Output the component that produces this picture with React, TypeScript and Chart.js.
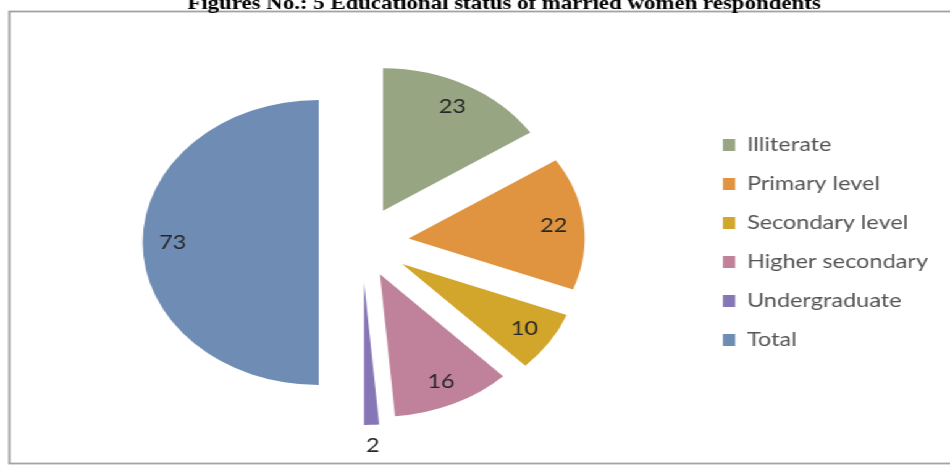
import React, { useEffect, useRef } from "react";
import { Chart, registerables } from "chart.js";

Chart.register(...registerables);

const categories = ["Illiterate", "Primary level", "Secondary level", "Higher secondary", "Undergraduate", "Total"];
const values = [23, 22, 10, 16, 2, 73];
const colors = ["#97A583", "#E1943F", "#D2A52B", "#C0829B", "#8676B6", "#6F8CB4"];
const explode = [36, 38, 39, 35, 40, 35];
const titleText = "Figures No.: 5 Educational status of married women respondents";

const CW = 769;
const CH = 469;
const SX = 950 / CW;

const framePlugin = {
  id: "frame",
  beforeDraw(chart: any) {
    const ctx = chart.ctx;
    ctx.save();
    ctx.fillStyle = "#ffffff";
    ctx.fillRect(0, 0, chart.width, chart.height);
    ctx.strokeStyle = "#a3a3a3";
    ctx.lineWidth = 1.8;
    ctx.strokeRect(7.5, 11.5, chart.width + 20, 452);
    ctx.fillStyle = "#000";
    ctx.font = 'bold 18.5px "Liberation Serif", "Times New Roman", serif';
    ctx.textAlign = "center";
    ctx.textBaseline = "alphabetic";
    ctx.fillText(titleText, 408, 9);
    ctx.restore();
  },
};

const explodePlugin = {
  id: "explode",
  beforeDatasetDraw(chart: any, args: any) {
    const ctx = chart.ctx;
    const arcs = args.meta.data;
    arcs.forEach((arc: any, i: number) => {
      const mid = (arc.startAngle + arc.endAngle) / 2;
      const d = explode[i] || 0;
      ctx.save();
      ctx.translate(Math.cos(mid) * d, Math.sin(mid) * d);
      arc.draw(ctx);
      ctx.restore();
    });
    return false;
  },
  afterDatasetsDraw(chart: any) {
    const ctx = chart.ctx;
    const meta = chart.getDatasetMeta(0);
    const total = values.reduce((a, b) => a + b, 0);
    ctx.save();
    ctx.font = '19px Lato, "Open Sans", sans-serif';
    ctx.fillStyle = "#262626";
    ctx.textAlign = "center";
    ctx.textBaseline = "middle";
    meta.data.forEach((arc: any, i: number) => {
      const mid = (arc.startAngle + arc.endAngle) / 2;
      const d = explode[i] || 0;
      const frac = values[i] / total;
      const r = frac < 0.03 ? arc.outerRadius + 21 : arc.outerRadius * 0.83;
      const x = arc.x + Math.cos(mid) * (d + r);
      const y = arc.y + Math.sin(mid) * (d + r);
      ctx.fillText(String(values[i]), x, y);
    });
    ctx.restore();
  },
};

export default function App() {
  const ref = useRef<HTMLCanvasElement | null>(null);
  useEffect(() => {
    if (!ref.current) return;
    const chart = new Chart(ref.current, {
      type: "pie",
      data: {
        labels: categories,
        datasets: [
          {
            data: values,
            backgroundColor: colors,
            borderWidth: 0,
          },
        ],
      },
      options: {
        responsive: false,
        animation: false,
        radius: 142.5,
        layout: { padding: { top: 16, bottom: 0, left: 20.8, right: 7.8 } },
        plugins: {
          tooltip: { enabled: false },
          title: { display: false },
          legend: {
            position: "right",
            labels: {
              boxWidth: 10,
              boxHeight: 12,
              padding: 20,
              color: "#555555",
              font: { family: "Lato, 'Open Sans', sans-serif", size: 19 },
            },
          },
        },
      } as any,
      plugins: [framePlugin, explodePlugin],
    });
    return () => chart.destroy();
  }, []);
  return (
    <div
      style={{
        position: "fixed",
        left: 0,
        top: 0,
        width: CW,
        height: CH,
        transform: `scaleX(${SX})`,
        transformOrigin: "0 0",
        background: "#fff",
      }}
    >
      <canvas ref={ref} width={CW} height={CH} />
    </div>
  );
}
